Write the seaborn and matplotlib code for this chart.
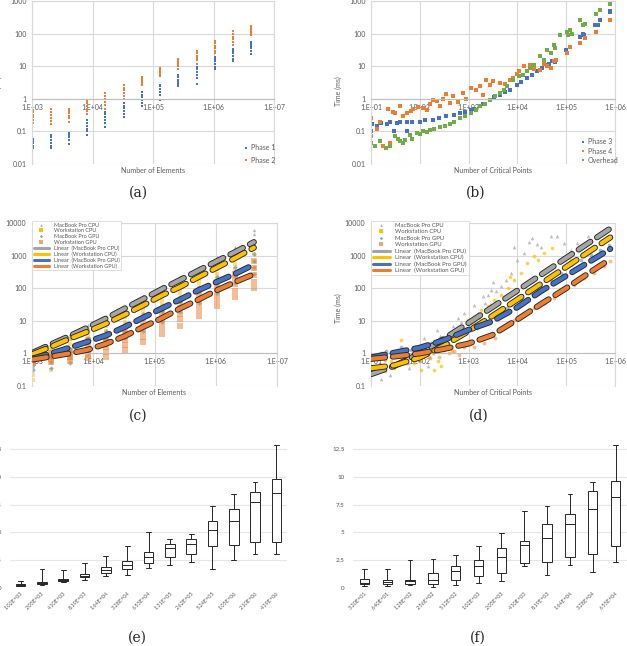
import numpy as np
import pandas as pd
import matplotlib
matplotlib.use("Agg")
import matplotlib.pyplot as plt
import seaborn as sns
from matplotlib import patheffects as pe
from matplotlib.lines import Line2D
from matplotlib.ticker import NullLocator

# ---------------- data ----------------
# (a) phase 1 / phase 2 times per element count
elements = [1024, 2048, 4096, 8192, 16384, 32768, 65536, 131072, 262144,
            524288, 1048576, 2097152, 4194304]
phase1 = [
    [0.03, 0.035, 0.045, 0.05, 0.055, 0.06],
    [0.03, 0.035, 0.045, 0.055, 0.065, 0.075],
    [0.04, 0.055, 0.065, 0.075, 0.085, 0.09],
    [0.08, 0.1, 0.12, 0.15, 0.18, 0.22],
    [0.14, 0.18, 0.22, 0.28, 0.34, 0.4],
    [0.28, 0.35, 0.42, 0.52, 0.62, 0.75],
    [0.6, 0.75, 0.9, 1.1, 1.35, 1.6],
    [0.9, 1.3, 1.6, 2.0, 2.4, 2.7],
    [2.4, 2.8, 3.3, 3.9, 4.6, 5.3],
    [2.8, 4.5, 5.5, 6.8, 8.2, 9.5],
    [8.0, 9.5, 11.5, 14, 16.5, 19],
    [14, 17, 21, 25, 30, 34],
    [24, 29, 35, 41, 48, 55],
]
phase2 = [
    [0.18, 0.22, 0.27, 0.32, 0.38, 0.45],
    [0.17, 0.21, 0.26, 0.32, 0.39, 0.47],
    [0.2, 0.25, 0.3, 0.36, 0.43, 0.5],
    [0.35, 0.42, 0.5, 0.6, 0.72, 0.85],
    [0.5, 0.65, 0.8, 1.0, 1.25, 1.5],
    [1.0, 1.25, 1.5, 1.8, 2.2, 2.6],
    [2.6, 3.0, 3.4, 3.9, 4.3, 4.8],
    [5.0, 5.8, 6.5, 7.3, 8.2, 9.0],
    [8.5, 10, 11.5, 13, 15, 17],
    [12, 15, 18, 21, 25, 30],
    [25, 30, 36, 43, 51, 60],
    [45, 55, 66, 80, 98, 120],
    [90, 105, 120, 135, 155, 175],
]

# (b) phase 3 / phase 4 / overhead vs critical points
p3_x = [10, 10.5, 13, 21, 29, 34, 54, 54, 100, 190, 350, 680, 1100, 1700, 2700, 4400, 7000, 9700,
        15500, 25000, 40000, 50000, 100000, 120000, 190000, 220000, 390000, 500000, 790000,
        16, 25, 40, 70, 130, 250, 500, 850, 1300, 2000, 3300, 5500, 12000, 20000, 32000, 60000,
        45000, 230000, 450000, 800000]
p3_y = [0.1, 0.17, 0.15, 0.17, 0.1, 0.18, 0.19, 0.1, 0.2, 0.23, 0.29, 0.36, 0.45, 0.6, 0.95, 1.35, 1.9, 2.7,
        4.4, 7, 11, 14, 32, 40, 80, 100, 180, 260, 460,
        0.18, 0.19, 0.2, 0.2, 0.22, 0.26, 0.32, 0.4, 0.5, 0.7, 1.1, 1.6, 3.3, 5.5, 9, 13,
        12, 90, 190, 500]
p4_x = [10, 10, 13, 18, 22, 25, 31, 39, 54, 74, 117, 160, 220, 300, 410, 480, 780, 1100, 1700, 2300,
        3200, 4400, 7000, 9700, 13500, 18000, 29000, 40000, 55000, 104000, 120000, 190000, 240000,
        400000, 790000, 15, 28, 45, 65, 90, 140, 190, 260, 350, 600, 900, 1400, 2000, 2700, 5500,
        8000, 11000, 22000, 35000, 48000, 62000]
p4_y = [0.26, 0.07, 0.12, 0.036, 0.5, 0.045, 0.37, 0.6, 0.36, 0.47, 0.53, 0.68, 0.85, 0.96, 0.75, 1.2,
        1.5, 2.2, 2.4, 3.9, 3.5, 3.1, 3.9, 5.6, 10, 11, 7.7, 9.8, 14, 25, 40, 50, 72, 115, 260,
        0.2, 0.4, 0.3, 0.42, 0.55, 0.45, 0.9, 0.6, 1.4, 0.8, 1.0, 1.8, 1.3, 2.6, 2.8, 4.5, 7, 8, 12, 9, 15]
ov_x = [10, 12, 15, 25, 31, 39, 50, 63, 86, 117, 160, 260, 410, 680, 1100, 1700, 2700, 4400, 6000,
        8300, 11000, 15500, 22000, 29000, 40000, 55000, 74000, 104000, 120000, 190000, 240000,
        400000, 500000, 790000, 20, 35, 45, 70, 100, 140, 200, 330, 500, 850, 1400, 2200, 3500,
        5200, 13000, 18000, 35000, 48000, 60000, 110000, 130000, 220000]
ov_y = [0.045, 0.035, 0.05, 0.035, 0.07, 0.05, 0.055, 0.075, 0.09, 0.1, 0.11, 0.14, 0.17, 0.26, 0.37,
        0.6, 0.95, 1.5, 2.4, 3.9, 4.9, 7, 11, 20, 32, 45, 91, 115, 130, 260, 200, 410, 520, 830,
        0.03, 0.06, 0.045, 0.06, 0.085, 0.095, 0.12, 0.15, 0.2, 0.3, 0.45, 0.7, 1.2, 1.8, 5.5, 9,
        15, 25, 35, 90, 100, 180]

# (c) four machines vs number of elements (same groups as (a))
mbp_cpu_c = [[0.9, 1.05, 1.2], [1.5, 1.8, 2.1], [2.8, 3.3, 3.9], [5.3, 6.2, 7.4], [10, 12, 14.5],
             [20, 24, 29], [40, 47, 57], [80, 95, 114], [160, 190, 228], [320, 380, 455],
             [640, 755, 900], [1280, 1500, 1800], [1800, 3000, 4500, 6000]]
ws_cpu_c = [[0.15, 0.22, 0.35, 0.6, 0.95], [0.3, 0.5, 0.8, 1.2, 1.6], [0.6, 0.9, 1.4, 2.0, 2.8],
            [1.2, 1.8, 2.6, 3.6, 4.8], [2.5, 3.5, 5, 7, 9], [4.5, 6.5, 9.5, 13, 16],
            [9, 13, 18, 24, 30], [18, 26, 36, 48, 60], [35, 50, 70, 95, 120],
            [70, 100, 140, 190, 240], [140, 200, 280, 380, 480], [280, 400, 560, 760, 1000],
            [400, 700, 1100, 1700, 2500]]
mbp_gpu_c = [[0.3, 0.45, 0.6, 0.7], [0.35, 0.55, 0.75, 0.95], [0.5, 0.8, 1.1, 1.4], [1.0, 1.5, 2.2, 3.0],
             [1.8, 2.8, 4.0, 5.0], [3, 4.5, 6.5, 8], [5, 8, 12, 16], [9, 14, 20, 28], [18, 28, 40, 55],
             [35, 55, 80, 110], [70, 110, 160, 220], [140, 220, 320, 450], [280, 450, 700, 1100]]
ws_gpu_c = [[0.5, 0.55, 0.6, 0.7], [0.55, 0.65, 0.8, 1.0], [0.6, 0.75, 0.95, 1.2],
            [0.7, 0.9, 1.3, 1.8, 2.5], [0.8, 1.1, 1.6, 2.2, 3.0], [1.3, 1.8, 2.6, 3.8, 5.5],
            [2.2, 3.2, 4.8, 7, 11], [4, 6, 9, 14, 22], [7, 11, 16, 25, 40], [14, 21, 32, 50, 75],
            [28, 42, 65, 100, 150], [55, 85, 130, 200, 280], [100, 160, 250, 420, 700]]
trend_mbp_cpu_c = [1.05, 1.9, 3.4, 6.3, 12, 24, 47, 93, 180, 350, 680, 1300, 2600]
trend_ws_cpu_c = [0.95, 1.6, 2.8, 4.7, 8.3, 15.5, 30, 60, 110, 220, 430, 850, 1750]
trend_mbp_gpu_c = [0.7, 1.0, 1.5, 2.3, 3.6, 6.5, 12.6, 24, 45, 87, 157, 280, 530]
trend_ws_gpu_c = [0.65, 0.8, 1.0, 1.3, 2.0, 3.4, 6.5, 12, 24, 45, 87, 157, 270]

# (d) four machines vs critical points
mbp_cpu_x = [11, 16, 24, 35, 48, 56, 90, 123, 185, 230, 318, 470, 600, 820, 1110, 1530, 1950, 2470,
             2900, 3600, 4600, 5800, 7400, 10000, 13700, 17500, 20000, 30000, 49000, 66000, 90000,
             124000, 170000, 280000, 500000, 800000, 60, 150, 260, 400, 700, 1300, 2200, 3200, 8500, 25000]
mbp_cpu_y = [0.28, 0.16, 0.22, 0.5, 1.3, 0.5, 0.8, 2.9, 1.0, 5.3, 2.1, 6.7, 12, 17, 8.5, 17, 56, 63,
             90, 80, 113, 180, 290, 740, 1200, 2700, 3400, 1900, 3900, 3900, 2400, 1500, 2400, 3900,
             4900, 7000, 0.35, 0.4, 3.5, 4, 9, 30, 35, 150, 1800, 2200]
ws_cpu_x = [11, 19, 26, 41, 56, 77, 106, 155, 200, 270, 370, 510, 700, 960, 1300, 1800, 2470, 3390,
            4600, 6300, 8600, 12000, 16000, 22000, 26000, 35000, 52000, 124000, 280000, 600000, 800000,
            30, 130, 240, 450, 1600, 2900, 7000]
ws_cpu_y = [0.4, 0.28, 0.57, 2.6, 0.8, 0.5, 0.31, 0.8, 0.31, 0.4, 2.1, 3.3, 5.3, 10.8, 8.5, 22, 28, 44,
            63, 100, 180, 290, 590, 950, 750, 1200, 1700, 750, 1500, 3000, 3900,
            0.35, 1.5, 0.6, 1.2, 12, 30, 220]
mbp_gpu_x = [11, 16, 26, 41, 66, 106, 170, 270, 430, 700, 1100, 1800, 2900, 4600, 7400, 12000, 19000,
             30000, 49000, 78000, 124000, 200000, 320000, 500000, 760000, 20, 90, 300, 1500, 6000, 25000]
mbp_gpu_y = [0.9, 1.0, 0.8, 1.6, 1.3, 1.6, 2.1, 2.6, 3.0, 3.7, 5.3, 8.5, 13.6, 19.4, 31, 44, 71,
             113, 180, 290, 520, 750, 1060, 1500, 2160, 1.2, 0.9, 1.8, 6, 25, 90]
ws_gpu_x = [11, 19, 30, 48, 77, 124, 200, 318, 510, 820, 1300, 2100, 3400, 5400, 8600, 13700, 22000,
            35000, 57000, 90000, 145000, 230000, 370000, 600000, 800000, 40, 100, 160, 250, 400, 650]
ws_gpu_y = [0.8, 0.64, 0.9, 0.72, 1.3, 0.9, 1.15, 1.3, 1.15, 1.6, 1.6, 2.1, 3.0, 6.7, 10.8, 15, 25,
            35, 50, 90, 128, 205, 290, 470, 660, 0.5, 0.6, 0.7, 0.8, 1.0, 0.9]
trend_x_d = [10, 30, 100, 300, 1000, 3000, 10000, 30000, 100000, 300000, 800000]
trend_mbp_cpu_d = [0.23, 0.41, 1.0, 2.7, 8.6, 25.6, 85, 255, 850, 2550, 6800]
trend_ws_cpu_d = [0.35, 0.43, 0.75, 1.65, 4.8, 13.8, 45, 135, 450, 1350, 3600]
trend_mbp_gpu_d = [0.75, 1.05, 1.5, 2.5, 5.3, 9.5, 26, 80, 240, 650, 1600]
trend_ws_gpu_d = [0.68, 0.8, 1.0, 1.35, 2.0, 3.6, 11, 32, 100, 300, 780]

# (e) / (f) box plots: [min, q1, median, q3, max]
e_labels = ["1.02E+03", "2.05E+03", "4.10E+03", "8.19E+03", "1.64E+04", "3.28E+04", "6.55E+04",
            "1.31E+05", "2.62E+05", "5.24E+05", "1.05E+06", "2.10E+06", "4.19E+06"]
e_stats = [[0.15, 0.22, 0.3, 0.38, 0.63], [0.3, 0.36, 0.45, 0.54, 1.74], [0.5, 0.6, 0.7, 0.78, 1.6],
           [0.75, 0.96, 1.1, 1.23, 2.28], [1.05, 1.35, 1.6, 1.9, 2.9], [1.15, 1.74, 2.05, 2.43, 3.8],
           [1.83, 2.28, 2.8, 3.28, 5.0], [2.1, 2.8, 3.64, 3.94, 4.39], [2.34, 3.1, 4.0, 4.45, 4.84],
           [1.71, 3.76, 5.2, 6.04, 7.33], [2.5, 3.88, 6.07, 7.06, 8.41], [3.03, 4.18, 7.69, 8.65, 9.53],
           [3.03, 4.18, 8.5, 9.77, 12.9]]
f_labels = ["3.20E+01", "6.40E+01", "1.28E+02", "2.56E+02", "5.12E+02", "1.02E+03", "2.05E+03",
            "4.10E+03", "8.19E+03", "1.64E+04", "3.28E+04", "6.55E+04"]
f_stats = [[0.2, 0.33, 0.45, 0.78, 1.74], [0.15, 0.33, 0.5, 0.69, 1.71], [0.3, 0.36, 0.6, 0.75, 2.49],
           [0.1, 0.33, 0.75, 1.35, 2.64], [0.3, 0.69, 1.5, 1.95, 2.94], [0.45, 1.05, 1.95, 2.55, 3.76],
           [0.6, 1.35, 2.82, 3.64, 4.99], [1.95, 2.25, 3.85, 4.2, 6.88], [1.14, 2.34, 4.54, 5.74, 7.33],
           [2.04, 2.79, 5.8, 6.61, 8.41], [1.44, 3.1, 7.06, 8.71, 9.53], [2.37, 3.79, 8.2, 9.62, 12.9]]

# ---------------- style ----------------
sns.set_theme(style="white")
plt.rcParams["font.family"] = ["Lato", "DejaVu Sans"]

BLUE, ORANGE, GRAY, YELLOW, GREEN = "#4472C4", "#ED7D31", "#A5A5A5", "#FFC000", "#70AD47"
TXT = "#595959"
GRID = "#d9d9d9"

W, H = 627, 646
fig = plt.figure(figsize=(W / 100, H / 100), dpi=100)


def add_ax(l, t, r, b):
    return fig.add_axes([l / W, 1 - b / H, (r - l) / W, (b - t) / H])


def groups_long(xs, groups):
    x = [xv for xv, g in zip(xs, groups) for _ in g]
    y = [v for g in groups for v in g]
    return x, y


def excel_log(ax, xlim, ylim, xlabel, ylab_x, ylab_y, xlab_y):
    ax.set_xscale("log")
    ax.set_yscale("log")
    ax.set_xlim(xlim)
    ax.set_ylim(ylim)
    xe = np.arange(round(np.log10(xlim[0])), round(np.log10(xlim[1])) + 1)
    ye = np.arange(round(np.log10(ylim[0])), round(np.log10(ylim[1])) + 1)
    ax.set_xticks(10.0 ** xe, [f"1.E+{int(e):02d}" for e in xe])
    ax.set_yticks(10.0 ** ye, [f"{10.0 ** e:g}" for e in ye])
    ax.xaxis.set_minor_locator(NullLocator())
    ax.yaxis.set_minor_locator(NullLocator())
    ax.grid(True, color=GRID, lw=0.8)
    ax.set_axisbelow(True)
    for s in ax.spines.values():
        s.set_color(GRID)
        s.set_linewidth(0.8)
    ax.spines["bottom"].set_position(("data", 1))
    ax.spines["bottom"].set_color("#bfbfbf")
    ax.tick_params(length=0, labelsize=5, labelcolor=TXT)
    ax.tick_params(axis="x", pad=3.5)
    ax.tick_params(axis="y", pad=4)
    ax.set_xlabel(xlabel, fontsize=5, color=TXT)
    ax.set_ylabel("Time (ms)", fontsize=5, color=TXT)
    ax.xaxis.set_label_coords(0.5, xlab_y)
    ax.yaxis.set_label_coords(ylab_x, ylab_y)


def scatter(ax, x, y, color, marker="s", s=4, alpha=1.0):
    sns.scatterplot(x=x, y=y, ax=ax, color=color, marker=marker, s=s, linewidth=0,
                    alpha=alpha, legend=False, zorder=2)


def trend(ax, x, y, color):
    sns.lineplot(x=x, y=y, ax=ax, color=color, lw=3, estimator=None, sort=False,
                 legend=False, zorder=4)
    ln = ax.lines[-1]
    ln.set_linestyle((0, (3.4, 1.9)))
    ln.set_dash_capstyle("round")
    ln.set_path_effects([pe.Stroke(linewidth=4.3, foreground="#262626", capstyle="round"),
                         pe.Normal()])


def caption(x, y, s):
    fig.text(x / W, 1 - y / H, s, ha="center", va="center", fontsize=10,
             family="DejaVu Serif")


# ---------------- (a) ----------------
ax = add_ax(32, 1, 274, 164)
excel_log(ax, (1e3, 1e7), (0.01, 1000), "Number of Elements", -0.125, 0.45, -0.02)
x1, y1 = groups_long(elements, phase1)
x2, y2 = groups_long(elements, phase2)
scatter(ax, x1, y1, BLUE, s=4)
scatter(ax, x2, y2, ORANGE, s=4)
hs = [Line2D([], [], ls="none", marker="s", ms=1.8, color=c, mew=0) for c in (BLUE, ORANGE)]
fig.legend(hs, ["Phase 1", "Phase 2"], loc="upper left", bbox_to_anchor=(240 / W, 1 - 141 / H),
           frameon=False, fontsize=5, handlelength=0.7, handletextpad=0.4, labelspacing=0.75,
           borderpad=0, labelcolor=TXT)
caption(138, 193, "(a)")

# ---------------- (b) ----------------
ax = add_ax(371, 1, 615, 164)
excel_log(ax, (10, 1e6), (0.01, 1000), "Number of Critical Points", -0.12, 0.45, -0.02)
scatter(ax, p3_x, p3_y, BLUE, s=5)
scatter(ax, p4_x, p4_y, ORANGE, s=5)
scatter(ax, ov_x, ov_y, GREEN, s=5)
hs = [Line2D([], [], ls="none", marker="s", ms=1.8, color=c, mew=0) for c in (BLUE, ORANGE, GREEN)]
fig.legend(hs, ["Phase 3", "Phase 4", "Overhead"], loc="upper left",
           bbox_to_anchor=(577 / W, 1 - 135 / H), frameon=False, fontsize=5, handlelength=0.7,
           handletextpad=0.4, labelspacing=0.3, borderpad=0, labelcolor=TXT)
caption(476, 193, "(b)")

# ---------------- legend handles for (c)/(d) ----------------
machine_labels = ["MacBook Pro CPU", "Workstation CPU", "MacBook Pro GPU", "Workstation GPU",
                  "Linear  (MacBook Pro CPU)", "Linear  (Workstation CPU)",
                  "Linear  (MacBook Pro GPU)", "Linear  (Workstation GPU)"]


def machine_handles():
    hs = [Line2D([], [], ls="none", marker="^", ms=1.8, color=GRAY, mew=0),
          Line2D([], [], ls="none", marker="s", ms=2.2, color=YELLOW, mew=0),
          Line2D([], [], ls="none", marker="D", ms=1.6, color=BLUE, mew=0, alpha=0.7),
          Line2D([], [], ls="none", marker="s", ms=2.2, color=ORANGE, mew=0, alpha=0.7)]
    hs += [Line2D([], [], color=c, lw=2.2) for c in (GRAY, YELLOW, BLUE, ORANGE)]
    return hs


# ---------------- (c) ----------------
ax = add_ax(32, 223, 277, 386)
excel_log(ax, (1e3, 1e7), (0.1, 10000), "Number of Elements", -0.13, 0.47, -0.02)
for groups, col, mk, s, a in [(mbp_cpu_c, GRAY, "^", 6, 0.8), (ws_cpu_c, YELLOW, "s", 9, 0.5),
                              (mbp_gpu_c, BLUE, "D", 6, 0.5), (ws_gpu_c, ORANGE, "s", 20, 0.5)]:
    gx, gy = groups_long(elements, groups)
    scatter(ax, gx, gy, col, marker=mk, s=s, alpha=a)
for tr, col in [(trend_mbp_cpu_c, GRAY), (trend_ws_cpu_c, YELLOW), (trend_mbp_gpu_c, BLUE),
                (trend_ws_gpu_c, ORANGE)]:
    trend(ax, elements, tr, col)
lg = ax.legend(machine_handles(), machine_labels, loc="upper left",
               bbox_to_anchor=(32 / W, 1 - 221 / H), bbox_transform=fig.transFigure,
               fontsize=4, handlelength=2.7, handletextpad=0.9, labelspacing=0.12,
               borderpad=0.3, borderaxespad=0, fancybox=False, framealpha=1,
               edgecolor=GRID, labelcolor=TXT)
lg.get_frame().set_linewidth(0.6)
caption(138, 416, "(c)")

# ---------------- (d) ----------------
ax = add_ax(371, 223, 615, 386)
excel_log(ax, (10, 1e6), (0.1, 10000), "Number of Critical Points", -0.12, 0.48, -0.02)
for xs, ys, col, mk, s, a in [(mbp_cpu_x, mbp_cpu_y, GRAY, "^", 7, 0.7),
                              (ws_cpu_x, ws_cpu_y, YELLOW, "o", 7, 0.7),
                              (mbp_gpu_x, mbp_gpu_y, BLUE, "o", 7, 0.5),
                              (ws_gpu_x, ws_gpu_y, ORANGE, "o", 8, 0.5)]:
    scatter(ax, xs, ys, col, marker=mk, s=s, alpha=a)
for tr, col in [(trend_mbp_cpu_d, GRAY), (trend_ws_cpu_d, YELLOW), (trend_mbp_gpu_d, BLUE),
                (trend_ws_gpu_d, ORANGE)]:
    trend(ax, trend_x_d, tr, col)
lg = ax.legend(machine_handles(), machine_labels, loc="upper left",
               bbox_to_anchor=(371 / W, 1 - 221 / H), bbox_transform=fig.transFigure,
               fontsize=4.3, handlelength=2.9, handletextpad=0.9, labelspacing=0.2,
               borderpad=0.3, borderaxespad=0, fancybox=False, framealpha=1,
               edgecolor=GRID, labelcolor=TXT)
lg.get_frame().set_linewidth(0.6)
caption(479, 416, "(d)")


# ---------------- (e) / (f) ----------------
def box_panel(l, r, labels, stats, width):
    ax = add_ax(l, 588 - 13 * 11.12, r, 588)
    df = pd.DataFrame({"n": [lab for lab, st in zip(labels, stats) for _ in st],
                       "t": [v for st in stats for v in st]})
    sns.boxplot(data=df, x="n", y="t", order=labels, whis=(0, 100), width=width,
                color="white", linecolor="#262626", linewidth=0.7, fliersize=0, ax=ax)
    ax.set_xlim(-0.5, len(labels) - 0.5)
    ax.set_ylim(0, 13)
    ax.set_yticks([0, 2.5, 5, 7.5, 10, 12.5], ["0", "2.5", "5", "7.5", "10", "12.5"])
    ax.grid(True, axis="y", color="#e6e6e6", lw=0.8)
    ax.set_axisbelow(True)
    sns.despine(ax=ax, left=True, bottom=True)
    ax.tick_params(length=0, labelsize=4.5, labelcolor=TXT)
    ax.tick_params(axis="y", pad=6)
    ax.tick_params(axis="x", pad=2, labelsize=4)
    for t in ax.get_xticklabels():
        t.set_rotation(45)
        t.set_ha("right")
        t.set_rotation_mode("anchor")
    ax.set_xlabel("")
    ax.set_ylabel("")
    return ax


box_panel(10, 287, e_labels, e_stats, 0.45)
caption(137, 638, "(e)")
box_panel(353, 627, f_labels, f_stats, 0.41)
caption(478, 638, "(f)")

fig.savefig("out.png", dpi=100)
